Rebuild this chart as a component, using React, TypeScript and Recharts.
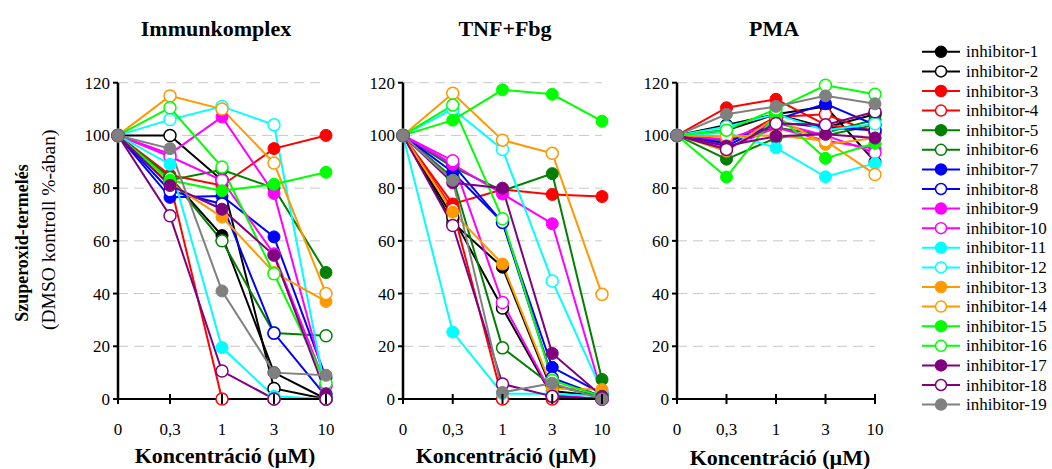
import React from "react";
import { LineChart, Line, XAxis, YAxis, CartesianGrid } from "recharts";

const categories = ["0", "0,3", "1", "3", "10"];

const inhibitors = [
  "inhibitor-1", "inhibitor-2", "inhibitor-3", "inhibitor-4", "inhibitor-5",
  "inhibitor-6", "inhibitor-7", "inhibitor-8", "inhibitor-9", "inhibitor-10",
  "inhibitor-11", "inhibitor-12", "inhibitor-13", "inhibitor-14", "inhibitor-15",
  "inhibitor-16", "inhibitor-17", "inhibitor-18", "inhibitor-19",
];

const colors = [
  "#000000", "#000000", "#ff0000", "#ff0000", "#008000", "#008000",
  "#0000ff", "#0000ff", "#ff00ff", "#ff00ff", "#00ffff", "#00ffff",
  "#ff9900", "#ff9900", "#00ff00", "#00ff00", "#800080", "#800080", "#808080",
];

const filled = [
  true, false, true, false, true, false, true, false, true, false,
  true, false, true, false, true, false, true, false, true,
];

// one row per inhibitor, values at 0 / 0,3 / 1 / 3 / 10 µM
const immunkomplex = [
  [100, 84, 62, 10, 0],
  [100, 100, 83, 4, 0],
  [100, 85, 81, 95, 100],
  [100, 82, 0, 0, 0],
  [100, 83, 87, 80, 48],
  [100, 84, 60, 25, 24],
  [100, 76.5, 77, 61.5, 8],
  [100, 79, 74, 25, 1],
  [100, 93, 107, 78, 5],
  [100, 92, 83, 55, 5],
  [100, 89, 19.5, 1, 0],
  [100, 106, 111, 104, 2],
  [100, 82, 69, 48, 37],
  [100, 115, 110, 89.5, 40],
  [100, 83, 79, 81.5, 86],
  [100, 110.5, 88, 47.5, 6],
  [100, 81, 72, 54.5, 2],
  [100, 69.5, 10.6, 0, 0],
  [100, 95, 41, 10, 9],
];

const tnfFbg = [
  [100, 67, 50, 3, 1],
  [100, 69, 34.5, 1, 0],
  [100, 74, 79.5, 77.6, 76.8],
  [100, 72, 0, 0, 0],
  [100, 88, 79, 85.5, 7.4],
  [100, 84, 19.4, 5, 1],
  [100, 86, 67, 12, 2],
  [100, 89, 67, 8, 1],
  [100, 89, 77.8, 66.5, 2],
  [100, 90.4, 36.6, 1.5, 0],
  [100, 25.4, 2, 2, 1],
  [100, 110, 94.7, 44.8, 3],
  [100, 70.9, 51.2, 4, 3.6],
  [100, 116, 98.2, 93.2, 39.7],
  [100, 105.8, 117.3, 115.6, 105.4],
  [100, 111.5, 68.4, 7, 1],
  [100, 82, 80, 17.3, 1],
  [100, 65.8, 5.7, 1, 0],
  [100, 83, 2.5, 6, 0],
];

const pma = [
  [100, 104, 108, 111, 90],
  [100, 102, 108, 103, 108],
  [100, 110.5, 113.7, 104, 102],
  [100, 97, 107, 108, 101],
  [100, 91, 99, 101, 106],
  [100, 98, 103, 100, 104],
  [100, 97, 106, 112, 104],
  [100, 96, 105, 103, 102],
  [100, 95, 103, 98, 95],
  [100, 98.5, 104.8, 100, 93.4],
  [100, 101, 95.3, 84.3, 89.4],
  [100, 103.3, 108, 102, 104.4],
  [100, 94, 107, 96.6, 99],
  [100, 99.7, 100, 98, 85.2],
  [100, 84.2, 108, 91.3, 97],
  [100, 102, 110, 119, 115.6],
  [100, 96, 99.7, 100.4, 99],
  [100, 94.7, 104.5, 104, 109],
  [100, 108, 111, 115, 112],
];

const yTicks = [0, 20, 40, 60, 80, 100, 120];

const FONT = "'Liberation Serif', 'Times New Roman', serif";
const CHART_TOP = 40;
const CHART_H = 420;
const PLOT_TOP = 82.7;
const PLOT_BOTTOM = 399;
const Y_W = 50;
const X_H = 30;

const XTick = (props: any) => {
  const { x, y, payload } = props;
  return (
    <g>
      <line x1={x} x2={x} y1={y - 5} y2={y + 5} stroke="#000" strokeWidth={2} />
      <text
        x={x}
        y={y + 36}
        textAnchor="middle"
        fontSize={17}
        fontFamily={FONT}
        fill="#000"
      >
        {payload.value}
      </text>
    </g>
  );
};

type PanelProps = { rows: number[][]; plotLeft: number; plotRight: number };

const Panel = ({ rows, plotLeft, plotRight }: PanelProps) => {
  const data = categories.map((c, ci) => {
    const row: Record<string, any> = { cat: c };
    rows.forEach((r, si) => {
      row["s" + si] = r[ci];
    });
    return row;
  });
  const right = 20;
  const width = Y_W + (plotRight - plotLeft) + right;
  const bottom = CHART_H - (PLOT_BOTTOM - CHART_TOP) - X_H;

  return (
    <div style={{ position: "absolute", left: plotLeft - Y_W, top: CHART_TOP }}>
      <LineChart
        width={width}
        height={CHART_H}
        data={data}
        margin={{ top: PLOT_TOP - CHART_TOP, right, left: 0, bottom }}
      >
        <CartesianGrid vertical={false} stroke="#c8c8c8" strokeDasharray="10 6" />
        <XAxis
          dataKey="cat"
          scale="point"
          interval={0}
          padding={{ left: 0, right: 0 }}
          height={X_H}
          axisLine={{ stroke: "#000", strokeWidth: 2 }}
          tickLine={false}
          tickSize={0}
          tickMargin={0}
          tick={<XTick />}
        />
        <YAxis
          type="number"
          domain={[0, 120]}
          ticks={yTicks}
          width={Y_W}
          axisLine={{ stroke: "#000", strokeWidth: 2.5 }}
          tickLine={{ stroke: "#000", strokeWidth: 2 }}
          tickSize={5}
          tickMargin={3}
          tick={{ fill: "#000", fontSize: 17, fontFamily: FONT }}
        />
        {rows.map((_, si) => (
          <Line
            key={si}
            type="linear"
            dataKey={"s" + si}
            stroke={colors[si]}
            strokeWidth={2}
            dot={{
              r: 6,
              fill: filled[si] ? colors[si] : "#ffffff",
              stroke: colors[si],
              strokeWidth: filled[si] ? 1 : 1.5,
            }}
            activeDot={false}
            isAnimationActive={false}
          />
        ))}
      </LineChart>
    </div>
  );
};

export default function App() {
  return (
    <div
      style={{
        position: "absolute",
        left: 0,
        top: 0,
        width: 1052,
        height: 469,
        background: "#fff",
        fontFamily: FONT,
        overflow: "hidden",
      }}
    >
      <Panel rows={immunkomplex} plotLeft={118} plotRight={326} />
      <Panel rows={tnfFbg} plotLeft={403} plotRight={602} />
      <Panel rows={pma} plotLeft={677} plotRight={875} />

      <svg
        width={1052}
        height={469}
        fontFamily={FONT}
        style={{ position: "absolute", left: 0, top: 0, pointerEvents: "none" }}
      >
        <defs>
          <clipPath id="ytitleClip">
            <rect x={0} y={119} width={80} height={300} />
          </clipPath>
        </defs>

        <g fontWeight="bold" fontSize={22} textAnchor="middle" fill="#000">
          <text x={216} y={36}>Immunkomplex</text>
          <text x={505} y={36}>TNF+Fbg</text>
          <text x={774} y={36}>PMA</text>
        </g>

        <g fontWeight="bold" fontSize={22} textAnchor="middle" fill="#000">
          <text x={225} y={463}>Koncentráció (µM)</text>
          <text x={506} y={463}>Koncentráció (µM)</text>
          <text x={780} y={465}>Koncentráció (µM)</text>
        </g>

        <text
          transform="translate(28,243) rotate(-90)"
          textAnchor="middle"
          fontWeight="bold"
          fontSize={18}
          fill="#000"
        >
          Szuperoxid-termelés
        </text>
        <g clipPath="url(#ytitleClip)">
          <text
            transform="translate(55,330) rotate(-90)"
            textAnchor="start"
            fontSize={19.5}
            fill="#000"
          >
            (DMSO kontroll %-ában)
          </text>
        </g>

        {inhibitors.map((name, i) => {
          const y = 51.8 + i * 19.6;
          return (
            <g key={name}>
              <line x1={922} x2={960} y1={y} y2={y} stroke={colors[i]} strokeWidth={2} />
              <circle
                cx={941}
                cy={y}
                r={5.5}
                fill={filled[i] ? colors[i] : "#ffffff"}
                stroke={colors[i]}
                strokeWidth={1.5}
              />
              <text x={966} y={y + 5.5} fontSize={17} fill="#000">
                {name}
              </text>
            </g>
          );
        })}
      </svg>
    </div>
  );
}
